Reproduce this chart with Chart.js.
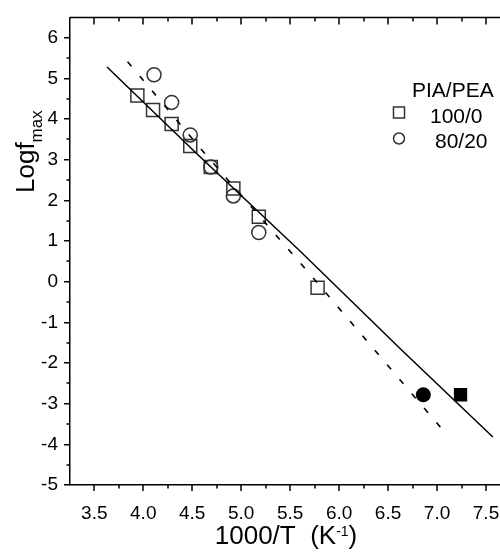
<!DOCTYPE html>
<html>
<head>
<meta charset="utf-8">
<script src="https://cdn.jsdelivr.net/npm/chart.js@4/dist/chart.umd.min.js"></script>
<style>
  html, body { margin: 0; padding: 0; background: #fff; }
  #wrap { width: 500px; height: 554px; }
</style>
</head>
<body>
<div id="wrap"><canvas id="c" width="500" height="554"></canvas></div>
<script>
// ---- data ----
const legendTitle = 'PIA/PEA';
const seriesNames = ['100/0', '80/20'];

// open squares (PIA/PEA 100/0)
const sqX = [3.94, 4.10, 4.29, 4.48, 4.69, 4.92, 5.18, 5.78];
const sqY = [4.58, 4.22, 3.88, 3.34, 2.82, 2.29, 1.60, -0.15];
// open circles (PIA/PEA 80/20)
const ciX = [4.11, 4.29, 4.48, 4.69, 4.92, 5.18];
const ciY = [5.09, 4.41, 3.61, 2.82, 2.11, 1.21];
// filled square / filled circle
const fsqX = [7.24];
const fsqY = [-2.78];
const fciX = [6.86];
const fciY = [-2.78];
// solid fit line (100/0)
const solidX = [3.63, 4.55, 5.59, 6.63, 7.57];
const solidY = [5.28, 3.14, 0.78, -1.66, -3.82];
// dashed fit line (80/20)
const dashX = [3.84, 4.63, 5.69, 7.12];
const dashY = [5.41, 3.15, 0.22, -3.82];

// axis ticks
const xMajorTicks = [3.5, 4.0, 4.5, 5.0, 5.5, 6.0, 6.5, 7.0, 7.5];
const xMinorTicks = [3.75, 4.25, 4.75, 5.25, 5.75, 6.25, 6.75, 7.25];
const yMajorTicks = [-5, -4, -3, -2, -1, 0, 1, 2, 3, 4, 5, 6];
const yMinorTicks = [-4.5, -3.5, -2.5, -1.5, -0.5, 0.5, 1.5, 2.5, 3.5, 4.5, 5.5];

const pts = (xs, ys) => xs.map((v, i) => ({ x: v, y: ys[i] }));
const FONT = "'Liberation Sans', Arial, Helvetica, sans-serif";

const overlay = {
  id: 'overlay',
  afterDraw(chart) {
    const { ctx, chartArea: a, scales: { x, y } } = chart;
    ctx.save();
    ctx.strokeStyle = '#000';
    ctx.lineWidth = 1.5;
    // top frame line
    ctx.beginPath();
    ctx.moveTo(a.left, a.top); ctx.lineTo(a.right, a.top);
    ctx.stroke();
    ctx.beginPath();
    // top ticks (inward)
    xMajorTicks.forEach(v => { const px = Math.round(x.getPixelForValue(v)); ctx.moveTo(px, a.top); ctx.lineTo(px, a.top + 7); });
    xMinorTicks.forEach(v => { const px = Math.round(x.getPixelForValue(v)); ctx.moveTo(px, a.top); ctx.lineTo(px, a.top + 4); });
    // bottom major + minor ticks (outward)
    xMajorTicks.forEach(v => { const px = Math.round(x.getPixelForValue(v)); ctx.moveTo(px, a.bottom); ctx.lineTo(px, a.bottom + 6); });
    xMinorTicks.forEach(v => { const px = Math.round(x.getPixelForValue(v)); ctx.moveTo(px, a.bottom); ctx.lineTo(px, a.bottom + 3.5); });
    // left minor ticks (outward)
    yMinorTicks.forEach(v => { const py = Math.round(y.getPixelForValue(v)); ctx.moveTo(a.left, py); ctx.lineTo(a.left - 3.5, py); });
    ctx.stroke();

    // axis titles
    ctx.fillStyle = '#000';
    ctx.textBaseline = 'alphabetic';
    ctx.textAlign = 'left';
    // x title: 1000/T  (K^-1)
    const main = '1000/T  (K';
    const sup = '-1';
    const close = ')';
    ctx.font = '26px ' + FONT;
    const w1 = ctx.measureText(main).width;
    const w3 = ctx.measureText(close).width;
    ctx.font = '14px ' + FONT;
    const w2 = ctx.measureText(sup).width;
    const total = w1 + w2 + w3;
    let sx = (a.left + a.right) / 2 - total / 2 + 1;
    const by = 544;
    ctx.font = '26px ' + FONT;
    ctx.fillText(main, sx, by);
    ctx.font = '14px ' + FONT;
    ctx.fillText(sup, sx + w1, by - 8);
    ctx.font = '26px ' + FONT;
    ctx.fillText(close, sx + w1 + w2, by);

    // y title: Logf_max (rotated)
    ctx.save();
    ctx.translate(34, 193);
    ctx.rotate(-Math.PI / 2);
    ctx.font = '26px ' + FONT;
    ctx.fillText('Logf', 0, 0);
    const wl = ctx.measureText('Logf').width;
    ctx.font = '17px ' + FONT;
    ctx.fillText('max', wl, 8);
    ctx.restore();

    // legend
    ctx.font = '21px ' + FONT;
    ctx.fillText(legendTitle, 412, 97);
    ctx.fillText(seriesNames[0], 430, 123);
    ctx.fillText(seriesNames[1], 435, 148);
    ctx.lineWidth = 1.5;
    ctx.strokeStyle = '#333';
    ctx.fillStyle = 'rgba(0,0,0,0)';
    Chart.helpers.drawPoint(ctx, { pointStyle: 'rect', radius: 7.8, borderWidth: 1.5, rotation: 0 }, 399, 112.5);
    Chart.helpers.drawPoint(ctx, { pointStyle: 'circle', radius: 5.5, borderWidth: 1.5, rotation: 0 }, 399, 138.5);
    ctx.restore();
  }
};

const openStyle = {
  pointBackgroundColor: 'rgba(0,0,0,0)',
  pointBorderColor: '#333',
  pointBorderWidth: 1.5,
  showLine: false,
  pointHoverRadius: 0
};

new Chart(document.getElementById('c'), {
  type: 'scatter',
  data: {
    datasets: [
      { label: 'fit 100/0', type: 'line', data: pts(solidX, solidY), borderColor: '#000', borderWidth: 1.5, pointRadius: 0, fill: false, tension: 0 },
      { label: 'fit 80/20', type: 'line', data: pts(dashX, dashY), borderColor: '#000', borderWidth: 1.6, borderDash: [6, 13], pointRadius: 0, fill: false, tension: 0 },
      Object.assign({ label: seriesNames[0], data: pts(sqX, sqY), pointStyle: 'rect', pointRadius: 9.2 }, openStyle),
      Object.assign({ label: seriesNames[1], data: pts(ciX, ciY), pointStyle: 'circle', pointRadius: 7 }, openStyle),
      { label: seriesNames[0] + ' (filled)', data: pts(fsqX, fsqY), pointStyle: 'rect', pointRadius: 9.4, pointBackgroundColor: '#000', pointBorderColor: '#000', pointBorderWidth: 0, showLine: false },
      { label: seriesNames[1] + ' (filled)', data: pts(fciX, fciY), pointStyle: 'circle', pointRadius: 7.5, pointBackgroundColor: '#000', pointBorderColor: '#000', pointBorderWidth: 0, showLine: false }
    ]
  },
  options: {
    responsive: false,
    animation: false,
    devicePixelRatio: 1,
    events: [],
    layout: { autoPadding: false, padding: { top: 14.5, right: 0, left: 0, bottom: 0 } },
    plugins: { legend: { display: false }, tooltip: { enabled: false } },
    scales: {
      x: {
        type: 'linear',
        position: 'bottom',
        min: 3.252,
        max: 7.643,
        afterBuildTicks: s => { s.ticks = xMajorTicks.map(v => ({ value: v })); },
        afterFit: s => { s.height = 69; },
        ticks: { font: { family: FONT, size: 19 }, color: '#000', padding: 0, maxRotation: 0, autoSkip: false, callback: v => Number(v).toFixed(1) },
        grid: { display: true, drawOnChartArea: false, drawTicks: true, tickLength: 17, tickColor: 'rgba(0,0,0,0)', color: '#000', lineWidth: 1.5 },
        border: { display: true, color: '#000', width: 1.5 },
        title: { display: false }
      },
      y: {
        type: 'linear',
        position: 'left',
        min: -5,
        max: 6.5,
        afterBuildTicks: s => { s.ticks = yMajorTicks.map(v => ({ value: v })); },
        afterFit: s => { s.width = 70; },
        ticks: { font: { family: FONT, size: 19 }, color: '#000', padding: 6, autoSkip: false, callback: v => String(v) },
        grid: { display: true, drawOnChartArea: false, drawTicks: true, tickLength: 6, color: '#000', lineWidth: 1.5 },
        border: { display: true, color: '#000', width: 1.5 },
        title: { display: false }
      }
    }
  },
  plugins: [overlay]
});
</script>
</body>
</html>
